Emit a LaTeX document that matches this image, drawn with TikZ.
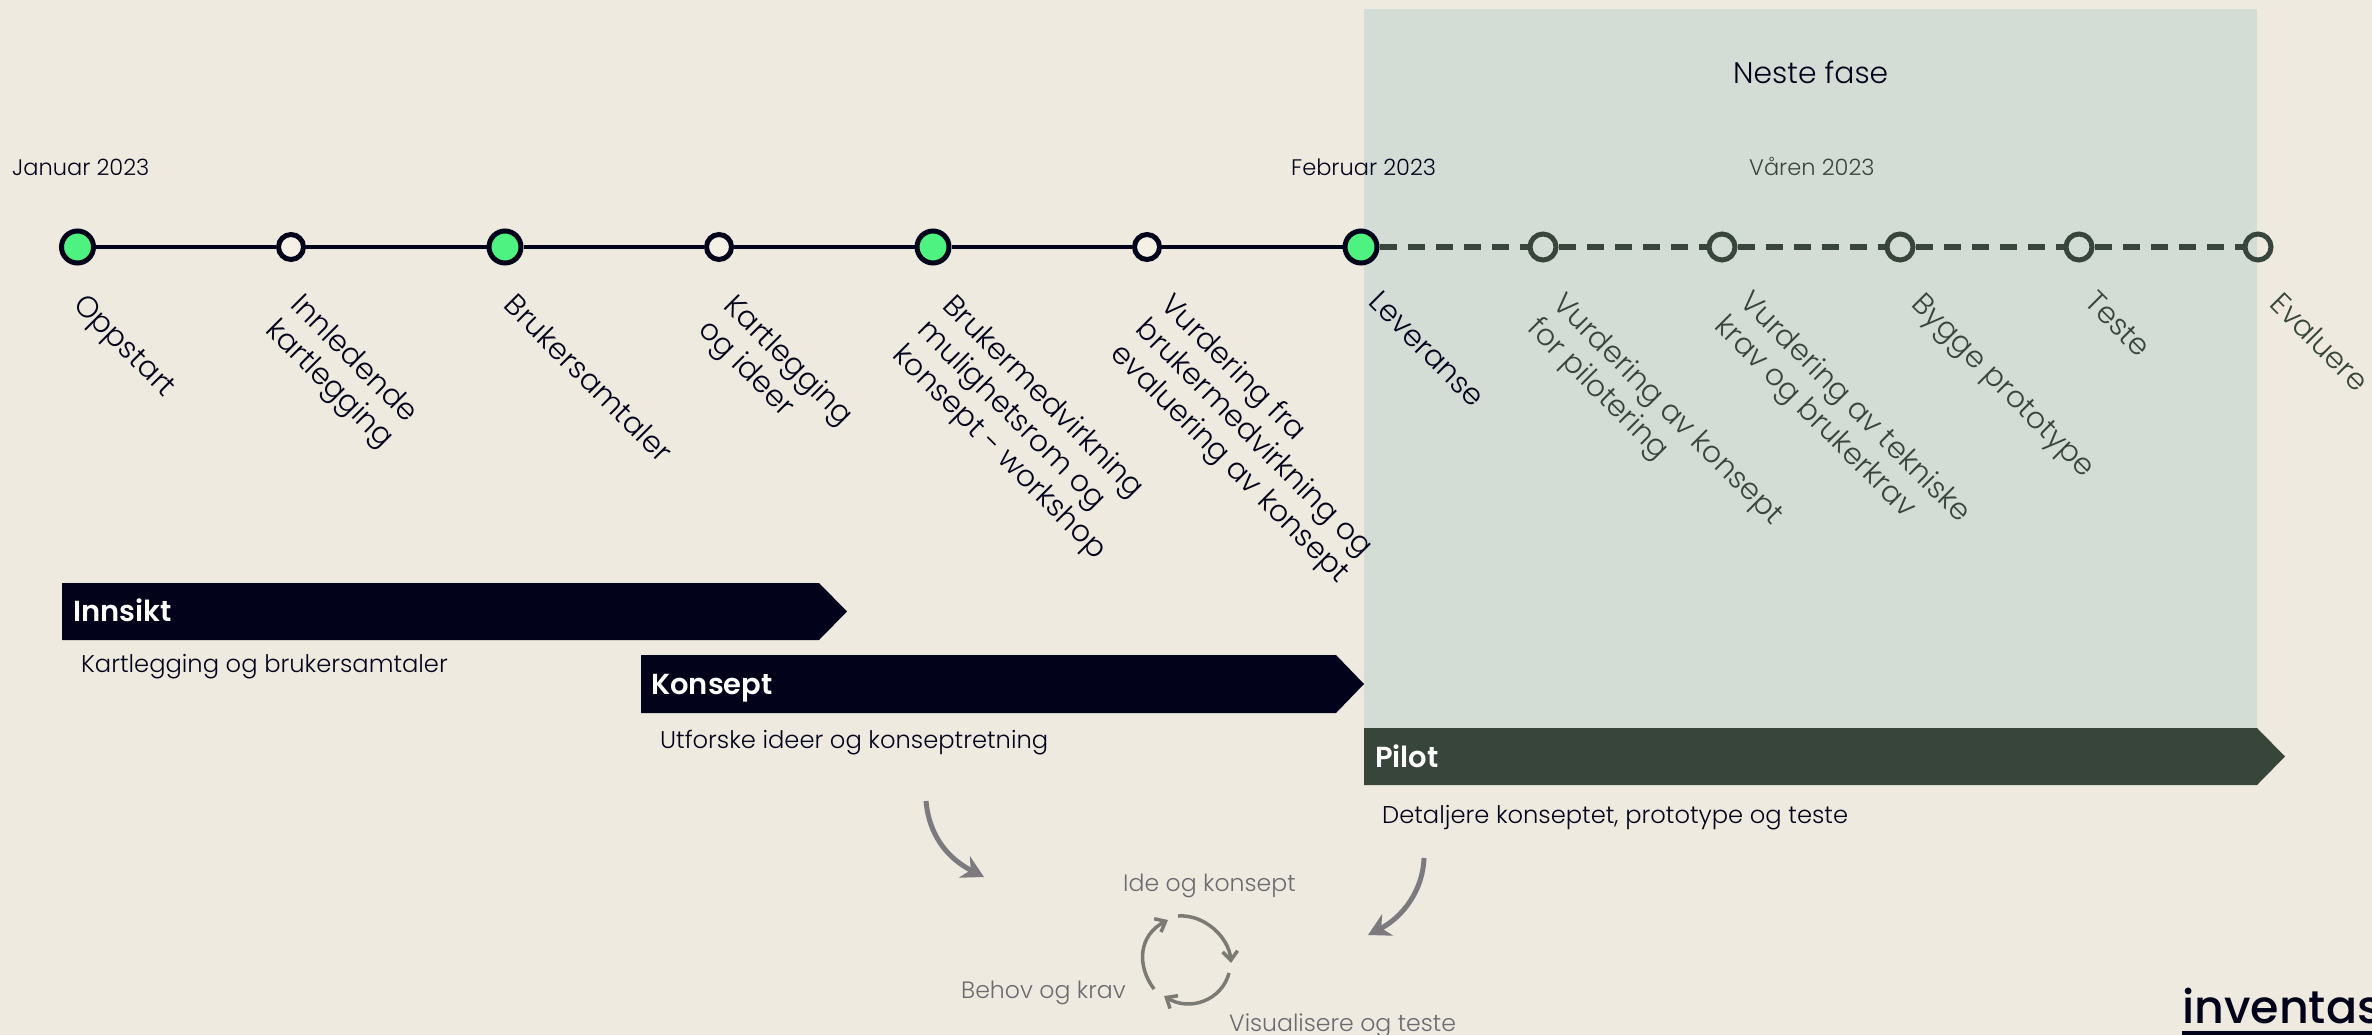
\documentclass[tikz,border=0pt]{standalone}
\usepackage{fontspec}
\setmainfont{Poppins}[UprightFont=* Light,BoldFont=* SemiBold]
\newfontfamily\logofont{Poppins Medium}
\usetikzlibrary{arrows.meta}
\definecolor{papr}{HTML}{EEEAE0}
\definecolor{nxbg}{HTML}{D3DCD5}
\definecolor{ink}{HTML}{02021A}
\definecolor{moss}{HTML}{38453A}
\definecolor{mint}{HTML}{4DF281}
\definecolor{cream}{HTML}{F5F0E6}
\definecolor{ashy}{HTML}{7C7A7E}
\definecolor{cycg}{HTML}{7B7A74}
\definecolor{cytx}{HTML}{6B6A70}
\tikzset{tlp/.style={
  x=1pt,
  y=-1pt
}}
\tikzset{msn/.style={
  draw=ink,
  fill=mint,
  shape=circle,
  line width=5pt,
  minimum size=32pt,
  inner sep=0pt,
}}
\tikzset{sbn/.style={msn,fill=cream,minimum size=25pt}}
\tikzset{nxn/.style={msn,draw=moss,fill=none,minimum size=26pt}}
\tikzset{dnt/.style={
  rotate=-45,
  anchor=north west,
  inner sep=0pt,
  align=left,
  text=ink,
  font=\fontsize{29.6}{35}\selectfont,
}}
\tikzset{nxt/.style={dnt,text=moss}}
\tikzset{dat/.style={text=ink,inner sep=0pt,font=\fontsize{22.5}{26}\selectfont}}
\tikzset{hdt/.style={anchor=base west,text=white,inner sep=0pt,font=\fontsize{29}{34}\selectfont\bfseries}}
\tikzset{dsc/.style={anchor=base west,text=ink,inner sep=0pt,font=\fontsize{24.2}{30}\selectfont}}
\tikzset{cyt/.style={anchor=base west,text=cytx,inner sep=0pt,font=\fontsize{23.6}{30}\selectfont}}
\tikzset{bnd/.style={draw=ashy,line width=5pt,-{Stealth[length=22pt,width=24pt]}}}
\tikzset{cyc/.style={draw=cycg,line width=3.5pt,-{Straight Barb[length=9pt,width=15pt]}}}

\begin{document}
\begin{tikzpicture}[tlp]

    \useasboundingbox (0,0) rectangle (2372,1035);

    % Background
    \fill[papr] (0,0) rectangle (2372,1035);
    \fill[nxbg] (1364,9) rectangle (2256.5,728);

    % Bars
    \fill[ink] (62,583) -- (819,583) -- (847,611.5) -- (819,640) -- (62,640) -- cycle;
    \fill[ink] (641,655) -- (1336,655) -- (1364,684) -- (1336,713) -- (641,713) -- cycle;
    \fill[moss] (1364,728) -- (2257,728) -- (2285,756.5) -- (2257,785) -- (1364,785) -- cycle;

    %% Timeline

    \node[msn] (m1) at (77.5,247) {};
    \node[sbn] (s1) at (291,247) {};
    \node[msn] (m2) at (505,247) {};
    \node[sbn] (s2) at (719,247) {};
    \node[msn] (m3) at (933,247) {};
    \node[sbn] (s3) at (1147,247) {};
    \node[msn] (m4) at (1361,247) {};
    \node[nxn] (n1) at (1543,247) {};
    \node[nxn] (n2) at (1722,247) {};
    \node[nxn] (n3) at (1900,247) {};
    \node[nxn] (n4) at (2079,247) {};
    \node[nxn] (n5) at (2258,247) {};

    % Solid and dashed parts
    \draw[ink,line width=4pt] (m1) -- (s1) (s1) -- (m2) (m2) -- (s2) (s2) -- (m3) (m3) -- (s3) (s3) -- (m4);
    \draw[moss,line width=5pt,dash pattern=on 17pt off 11pt]
      (m4) -- (n1) (n1) -- (n2) (n2) -- (n3) (n3) -- (n4) (n4) -- (n5);

    % Dates
    \node[dat,anchor=west] (jan) at (12,167) {Januar 2023};
    \node[dat,anchor=west] (feb) at (1291,167) {Februar 2023};
    \node[dat,anchor=west,text=moss] (var) at (1749,166) {Våren 2023};
    \node[dat,anchor=west,font=\fontsize{29.8}{34}\selectfont] (nst) at (1733,72) {Neste fase};

    % Slanted labels
    \node[dnt] (l1) at (87,291) {Oppstart};
    \node[dnt] (l2) at (305,291) {Innledende\\kartlegging};
    \node[dnt] (l3) at (518,291) {Brukersamtaler};
    \node[dnt] (l4) at (738,291) {Kartlegging\\og ideer};
    \node[dnt] (l5) at (957,291) {Brukermedvirkning\\mulighetsrom og\\konsept - workshop};
    \node[dnt] (l6) at (1175,290) {Vurdering fra\\brukermedvirkning og\\evaluering av konsept};
    \node[dnt] (l7) at (1382,289) {Leveranse};
    \node[nxt] (l8) at (1567,289) {Vurdering av konsept\\for pilotering};
    \node[nxt] (l9) at (1754,287) {Vurdering av tekniske\\krav og brukerkrav};
    \node[nxt] (l10) at (1925,291) {Bygge prototype};
    \node[nxt] (l11) at (2098,289) {Teste};
    \node[nxt] (l12) at (2284,290) {Evaluere};

    %% Phases

    \node[hdt] (ins) at (73,621) {Innsikt};
    \node[dsc] (insd) at (81,672) {Kartlegging og brukersamtaler};
    \node[hdt] (kon) at (651,694) {Konsept};
    \node[dsc] (kond) at (660,748) {Utforske ideer og konseptretning};
    \node[hdt] (pil) at (1375,767) {Pilot};
    \node[dsc] (pild) at (1382,823) {Detaljere konseptet, prototype og teste};

    %% Cycle

    \coordinate (ba) at (926,801);
    \coordinate (bb) at (984,877);
    \coordinate (bc) at (1424,858);
    \coordinate (bd) at (1368,935);
    \draw[bnd] (ba) .. controls (929,835) and (947,858) .. (bb);
    \draw[bnd] (bc) .. controls (1423,890) and (1403,917) .. (bd);

    \node[cyt] (ide) at (1123,891) {Ide og konsept};
    \node[cyt] (beh) at (961,998) {Behov og krav};
    \node[cyt] (vis) at (1229,1031) {Visualisere og teste};

    \coordinate (ca) at (1178,916);
    \coordinate (cb) at (1231,963);
    \coordinate (cc) at (1229,973);
    \coordinate (cd) at (1164,996);
    \coordinate (ce) at (1154,989);
    \coordinate (cf) at (1168,920);
    \draw[cyc] (ca) .. controls (1205,914) and (1229,938) .. (cb);
    \draw[cyc] (cc) .. controls (1222,1000) and (1190,1012) .. (cd);
    \draw[cyc] (ce) .. controls (1136,965) and (1139,935) .. (cf);

    %% Logo

    \node[anchor=base west,inner sep=0pt,text=ink,font=\fontsize{46}{50}\logofont] (logo) at (2182,1023) {inventas};
    \draw[ink,line width=4pt] (2182,1033) -- (2372,1033);

  \end{tikzpicture}
\end{document}
